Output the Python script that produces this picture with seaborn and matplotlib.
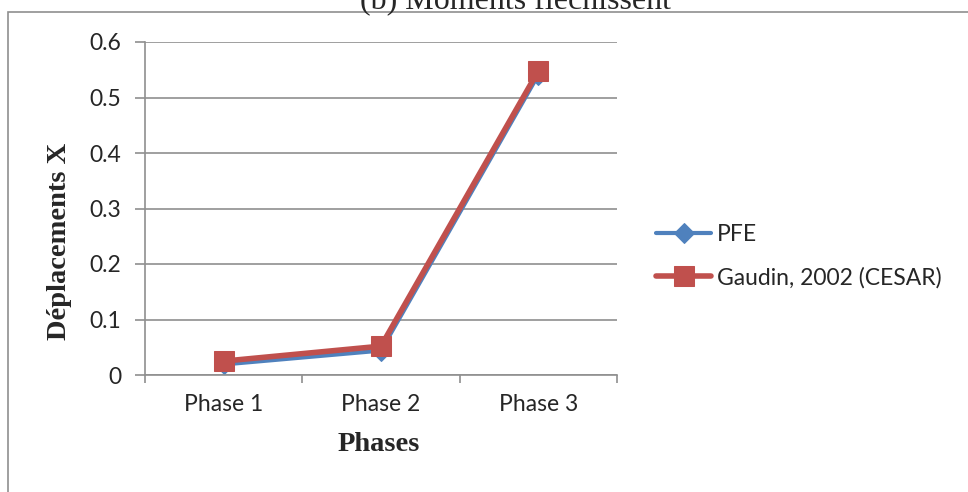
import matplotlib
matplotlib.use("Agg")
import matplotlib.pyplot as plt
from matplotlib.patches import Rectangle
import pandas as pd
import seaborn as sns

phases = ["Phase 1", "Phase 2", "Phase 3"]
pfe = [0.019, 0.044, 0.541]
gaudin = [0.025, 0.052, 0.548]
y_ticks = [0, 0.1, 0.2, 0.3, 0.4, 0.5, 0.6]
y_tick_labels = ["0", "0.1", "0.2", "0.3", "0.4", "0.5", "0.6"]

label_pfe = "PFE"
label_gaudin = "Gaudin, 2002 (CESAR)"

df = pd.DataFrame({"phase": phases, "pfe": pfe, "gaudin": gaudin})

sns.set_style("white")
plt.rcParams["font.family"] = ["Lato", "DejaVu Sans"]

grey = "#8f8f8f"
blue = "#4f81bd"
red = "#c0504d"

fig = plt.figure(figsize=(9.68, 4.92), dpi=100)
ax = fig.add_axes([145 / 968, 117 / 492, 472 / 968, 333 / 492])

sns.lineplot(data=df, x="phase", y="pfe", ax=ax, color=blue, lw=3,
             marker="D", markersize=10, markeredgecolor=blue, label=label_pfe,
             legend=False)
sns.lineplot(data=df, x="phase", y="gaudin", ax=ax, color=red, lw=4,
             marker="s", markersize=15, markeredgecolor=red, label=label_gaudin,
             legend=False)

ax.set_xlim(-0.5, 2.5)
ax.set_ylim(0, 0.6)
ax.set_yticks(y_ticks)
ax.set_yticklabels(y_tick_labels)
ax.set_xticks([0, 1, 2])
ax.set_xticklabels(phases)
ax.set_xticks([-0.5, 0.5, 1.5, 2.5], minor=True)

ax.grid(axis="y", color=grey, lw=1.2)
ax.set_axisbelow(True)
for side in ["top", "right"]:
    ax.spines[side].set_visible(False)
for side in ["left", "bottom"]:
    ax.spines[side].set_color(grey)
    ax.spines[side].set_linewidth(1.2)

ax.tick_params(axis="y", which="major", direction="out", length=7, width=1.2,
               color=grey, pad=10, labelsize=16.5, left=True)
ax.tick_params(axis="x", which="major", length=0, pad=14, labelsize=16.5)
ax.tick_params(axis="x", which="minor", direction="out", length=6, width=1.2,
               color=grey, bottom=True)

ax.set_xlabel("Phases", family="Liberation Serif", fontweight="bold", fontsize=20.5)
ax.set_ylabel("Déplacements X", family="Liberation Serif", fontweight="bold", fontsize=20.5)
ax.xaxis.set_label_coords(0.495, -0.21)
ax.xaxis.label.set_va("center")
ax.yaxis.set_label_coords(-0.182, 0.40)
ax.yaxis.label.set_va("center")

fig.legend(loc="center left", bbox_to_anchor=(656 / 968, 1 - 256 / 492),
           frameon=False, fontsize=16.5, handlelength=2.4, handletextpad=0.25,
           labelspacing=0.95, borderpad=0, borderaxespad=0)

# clipped chart title and outer chart border
fig.text(516 / 968, 1 - 9 / 492, "(b) Moments fléchissent", ha="center",
         va="baseline", family="Liberation Serif", fontsize=23)
fig.patches.append(Rectangle((8 / 968, -0.1), 2, 1.1 - 12 / 492,
                             transform=fig.transFigure, fill=False,
                             edgecolor=grey, lw=1.2))

fig.savefig("out.png", dpi=100)
